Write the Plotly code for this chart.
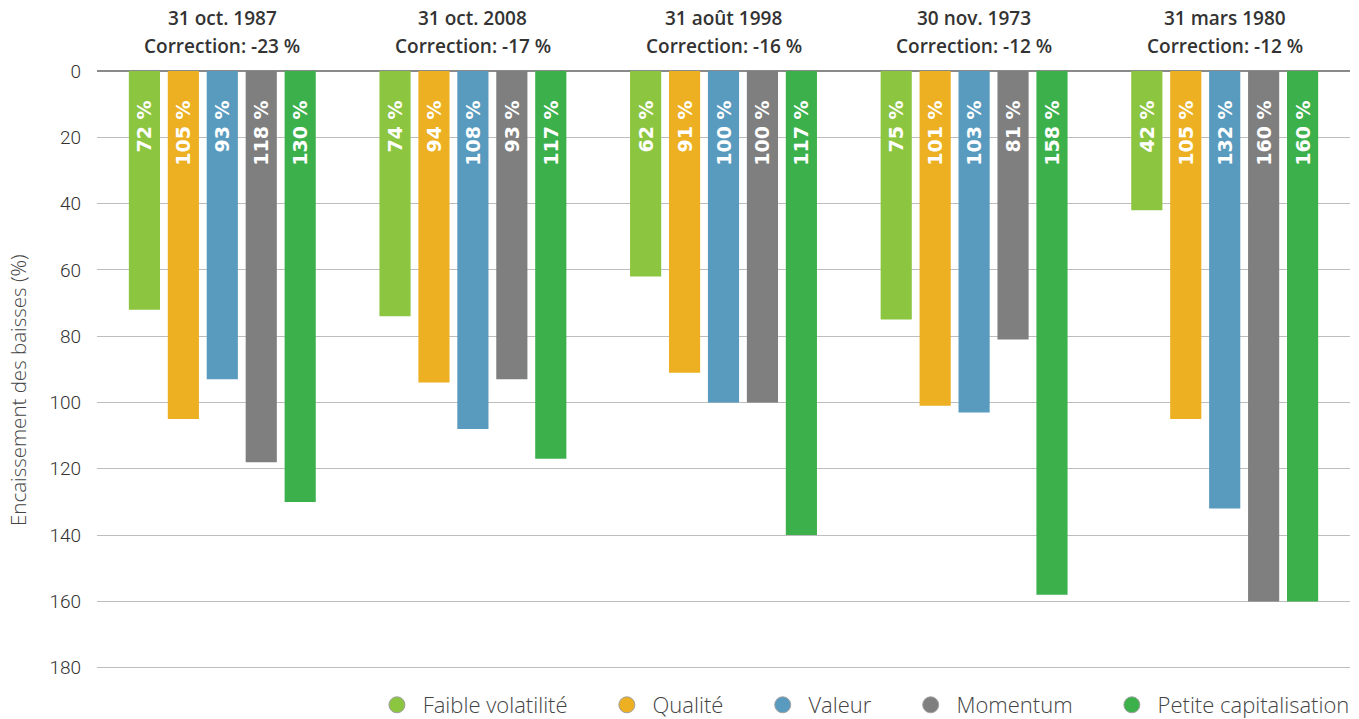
import plotly.graph_objects as go

events = ["31 oct. 1987", "31 oct. 2008", "31 août 1998", "30 nov. 1973", "31 mars 1980"]
corrections = ["Correction: -23 %", "Correction: -17 %", "Correction: -16 %", "Correction: -12 %", "Correction: -12 %"]
series_names = ["Faible volatilité", "Qualité", "Valeur", "Momentum", "Petite capitalisation"]
colors = ["#8CC540", "#ECB022", "#589BBF", "#7F7F80", "#3BB04B"]

# bar heights
faible = [72, 74, 62, 75, 42]
qualite = [105, 94, 91, 101, 105]
valeur = [93, 108, 100, 103, 132]
momentum = [118, 93, 100, 81, 160]
petite = [130, 117, 140, 158, 160]
values = [faible, qualite, valeur, momentum, petite]

# labels printed in the bars
lab_faible = ["72 %", "74 %", "62 %", "75 %", "42 %"]
lab_qualite = ["105 %", "94 %", "91 %", "101 %", "105 %"]
lab_valeur = ["93 %", "108 %", "100 %", "103 %", "132 %"]
lab_momentum = ["118 %", "93 %", "100 %", "81 %", "160 %"]
lab_petite = ["130 %", "117 %", "117 %", "158 %", "160 %"]
labels = [lab_faible, lab_qualite, lab_valeur, lab_momentum, lab_petite]

yticks = [0, 20, 40, 60, 80, 100, 120, 140, 160, 180]

TXT = "#333333"
PAD = "\u00a0" * 4
LEG_PAD = "\u00a0" * 6

fig = go.Figure()
n = len(series_names)
for i, (name, col, vals, labs) in enumerate(zip(series_names, colors, values, labels)):
    fig.add_trace(go.Bar(
        x=events, y=vals, name=name, marker=dict(color=col, line=dict(width=0)),
        text=[l + PAD for l in labs], textposition="inside", insidetextanchor="start", textangle=-90,
        textfont=dict(family="DejaVu Sans", size=19, color="white", weight=700),
        showlegend=False, hoverinfo="skip",
    ))
    fig.add_trace(go.Scatter(
        x=[None], y=[None], mode="markers",
        name="\u00a0" + name + (LEG_PAD if i < n - 1 else ""),
        marker=dict(symbol="circle", size=23, color=col, line=dict(color="#A0A0A0", width=1)),
        showlegend=True,
    ))

for ev, corr in zip(events, corrections):
    fig.add_annotation(x=ev, y=1.0, xref="x", yref="paper", yanchor="middle", yshift=53,
                       text=ev, showarrow=False,
                       font=dict(family="Open Sans", size=19, color=TXT, weight=600))
    fig.add_annotation(x=ev, y=1.0, xref="x", yref="paper", yanchor="middle", yshift=25,
                       text=corr, showarrow=False,
                       font=dict(family="Open Sans", size=19, color=TXT, weight=600))

# y-axis title
fig.add_annotation(x=0, y=0.5, xref="paper", yref="paper", xanchor="center", yanchor="middle",
                   xshift=-79, yshift=-20, textangle=-90, showarrow=False,
                   text="Encaissement des baisses (%)",
                   font=dict(family="Open Sans", size=20.5, color="#444444", weight=300))

fig.update_layout(
    width=1359, height=719,
    margin=dict(l=97, r=9, t=71, b=50, autoexpand=False),
    paper_bgcolor="white", plot_bgcolor="white",
    barmode="group", bargap=0.223, bargroupgap=0.2,
    font=dict(family="Open Sans", color=TXT),
    legend=dict(orientation="h", x=0.997, xanchor="right", xref="container",
                y=14 / 719, yanchor="middle", yref="container",
                font=dict(family="Open Sans", size=22, color="#444444", weight=300),
                itemsizing="trace", traceorder="normal", itemwidth=30,
                bgcolor="rgba(0,0,0,0)"),
    showlegend=True,
)
fig.update_xaxes(showticklabels=False, showgrid=False, zeroline=False, showline=False, ticks="")
fig.update_yaxes(range=[180.4, 0], tickvals=yticks, showgrid=True, gridcolor="#BDBDBD", gridwidth=1,
                 zeroline=True, zerolinecolor="#8A8A8A", zerolinewidth=2,
                 tickfont=dict(family="Roboto", size=19, color=TXT, weight=300),
                 ticks="", ticklabelstandoff=15)

fig.write_html("out.html")
